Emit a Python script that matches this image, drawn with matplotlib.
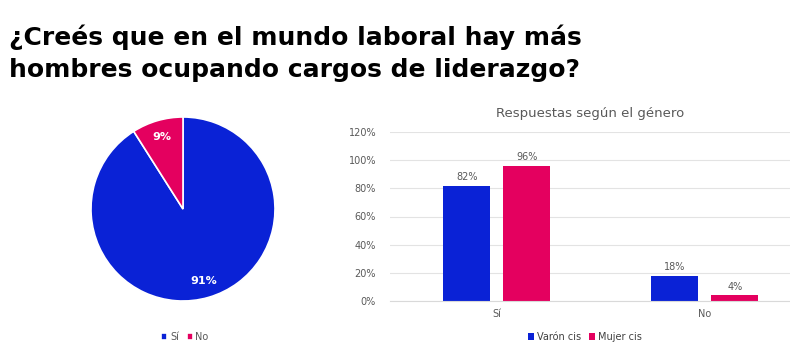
import matplotlib
matplotlib.use("Agg")
import matplotlib.pyplot as plt
import numpy as np

# data
pie_labels = ["Sí", "No"]
pie_values = [91, 9]

categories = ["Sí", "No"]
series_names = ["Varón cis", "Mujer cis"]
varon_values = [82, 18]
mujer_values = [96, 4]

blue = "#0A22D6"
pink = "#E4005F"
gray_text = "#595959"

fig = plt.figure(figsize=(7.9, 3.51), dpi=100)
fig.patch.set_facecolor("white")

# main title
fig.text(0.012, 0.93, "¿Creés que en el mundo laboral hay más\nhombres ocupando cargos de liderazgo?",
         fontsize=18, fontweight="bold", family="DejaVu Sans",
         color="black", va="top", ha="left", linespacing=1.42)

# pie chart
ax_pie = fig.add_axes([91 / 790, 50 / 351, 184 / 790, 184 / 351])
wedges, texts, autotexts = ax_pie.pie(
    pie_values, colors=[blue, pink], startangle=90, counterclock=False,
    autopct="%d%%", pctdistance=0.82,
    wedgeprops=dict(edgecolor="white", linewidth=1.2),
    textprops=dict(color="white", fontsize=8, fontweight="bold"))
ax_pie.set_xlim(-1, 1)
ax_pie.set_ylim(-1, 1)
ax_pie.set_aspect("equal")
fig.legend(wedges, pie_labels, loc="center", bbox_to_anchor=(185 / 790, 1 - 337 / 351),
           ncol=2, frameon=False, fontsize=7, handlelength=0.6, handleheight=0.6,
           handletextpad=0.3, columnspacing=0.8, labelcolor=gray_text)

# bar chart
ax = fig.add_axes([390 / 790, 50 / 351, 400 / 790, 169 / 351])
x = np.arange(len(categories))
w = 0.226
off = 0.144
b1 = ax.bar(x - off, varon_values, w, color=blue, label=series_names[0])
b2 = ax.bar(x + off, mujer_values, w, color=pink, label=series_names[1])
for bars in (b1, b2):
    for rect in bars:
        h = rect.get_height()
        ax.text(rect.get_x() + rect.get_width() / 2, h + 2.5, f"{h:.0f}%",
                ha="center", va="bottom", fontsize=7, color=gray_text)

ax.set_xlim(-0.514, 1.41)
ax.set_ylim(0, 120)
ax.set_yticks(np.arange(0, 121, 20))
ax.set_yticklabels([f"{v}%" for v in range(0, 121, 20)])
ax.set_xticks(x)
ax.set_xticklabels(categories)
ax.tick_params(axis="both", length=0, labelsize=7, labelcolor=gray_text)
ax.tick_params(axis="y", pad=10)
ax.tick_params(axis="x", pad=6)
ax.grid(axis="y", color="#e3e3e3", linewidth=0.8)
ax.set_axisbelow(True)
for s in ["top", "right", "left"]:
    ax.spines[s].set_visible(False)
ax.spines["bottom"].set_color("#d9d9d9")
ax.set_title("Respuestas según el género", fontsize=9.5, color=gray_text, pad=11)

fig.legend(handles=[b1, b2], loc="center", bbox_to_anchor=(585 / 790, 1 - 337 / 351),
           ncol=2, frameon=False, fontsize=7, handlelength=0.6, handleheight=0.6,
           handletextpad=0.3, columnspacing=0.8, labelcolor="#404040")

fig.savefig("out.png", dpi=100)
